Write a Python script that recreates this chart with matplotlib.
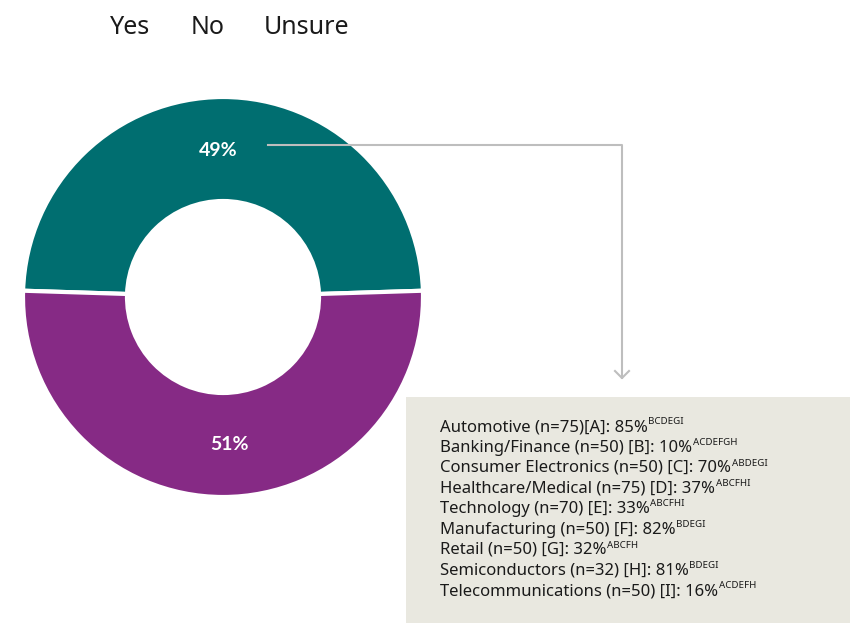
import matplotlib
matplotlib.use("Agg")
import matplotlib.pyplot as plt
from matplotlib.patches import Rectangle
from matplotlib.lines import Line2D

# ---- data ----
slice_labels = ["Yes", "No"]
slice_values = [49, 51]
legend_labels = ["Yes", "No", "Unsure"]
industries = ["Automotive", "Banking/Finance", "Consumer Electronics", "Healthcare/Medical",
              "Technology", "Manufacturing", "Retail", "Semiconductors", "Telecommunications"]
sample_sizes = [75, 50, 50, 75, 70, 50, 50, 32, 50]
group_letters = ["A", "B", "C", "D", "E", "F", "G", "H", "I"]
yes_percent = [85, 10, 70, 37, 33, 82, 32, 81, 16]
sig_letters = ["BCDEGI", "ACDEFGH", "ABDEGI", "ABCFHI", "ABCFHI", "BDEGI", "ABCFH", "BDEGI", "ACDEFH"]

W, H = 859, 628
teal = "#006E70"
purple = "#862A85"
box_color = "#E9E8E0"
line_color = "#BEBEBE"

fig = plt.figure(figsize=(W / 100, H / 100), dpi=100)

def fx(x):
    return x / W

def fy(y):
    return 1 - y / H

# ---- donut ----
cx, cy, r = 223, 297, 200
ax = fig.add_axes([fx(cx - r), fy(cy + r), 2 * r / W, 2 * r / H])
ax.axis("off")
start = 180 - (180 - slice_values[0] / sum(slice_values) * 360) / 2
ax.pie(slice_values, colors=[teal, purple], startangle=start, counterclock=False,
       radius=1, wedgeprops=dict(width=0.52, edgecolor="white", linewidth=3))
ax.set_xlim(-1, 1)
ax.set_ylim(-1, 1)
ax.set_aspect("auto")

fig.text(fx(218.5), fy(150), f"{slice_values[0]}%", color="white", fontsize=14,
         fontweight="bold", family="Lato", ha="center", va="center")
fig.text(fx(229.5), fy(445), f"{slice_values[1]}%", color="white", fontsize=14,
         fontweight="bold", family="Lato", ha="center", va="center")

# ---- legend text ----
legend_x = [110, 191, 264]
for lx, lab in zip(legend_x, legend_labels):
    fig.text(fx(lx), fy(27), lab, fontsize=18, family="Noto Sans", color="#1a1a1a",
             ha="left", va="center")

# ---- connector ----
pts_x = [268, 622, 622]
pts_y = [145, 145, 378]
fig.add_artist(Line2D([fx(v) for v in pts_x], [fy(v) for v in pts_y], color=line_color,
                      lw=1.5, transform=fig.transFigure))
fig.add_artist(Line2D([fx(615), fx(622), fx(629)], [fy(371), fy(378), fy(371)],
                      color=line_color, lw=1.5, transform=fig.transFigure))

# ---- box ----
fig.add_artist(Rectangle((fx(406), fy(623)), (850 - 406) / W, (623 - 397) / H,
                         facecolor=box_color, edgecolor="none", transform=fig.transFigure))

renderer = fig.canvas.get_renderer()
y0, dy = 427, 20.5
for i in range(len(industries)):
    sep = "" if i == 0 else " "
    main = f"{industries[i]} (n={sample_sizes[i]}){sep}[{group_letters[i]}]: {yes_percent[i]}%"
    t = fig.text(fx(440), fy(y0 + i * dy), main, fontsize=12, family="Noto Sans",
                 color="#1a1a1a", ha="left", va="center")
    bb = t.get_window_extent(renderer=renderer)
    fig.text(bb.x1 / W + 0.5 / W, fy(y0 + i * dy - 5), sig_letters[i], fontsize=7,
             family="Noto Sans", color="#1a1a1a", ha="left", va="center")

fig.savefig("out.png", dpi=100)
